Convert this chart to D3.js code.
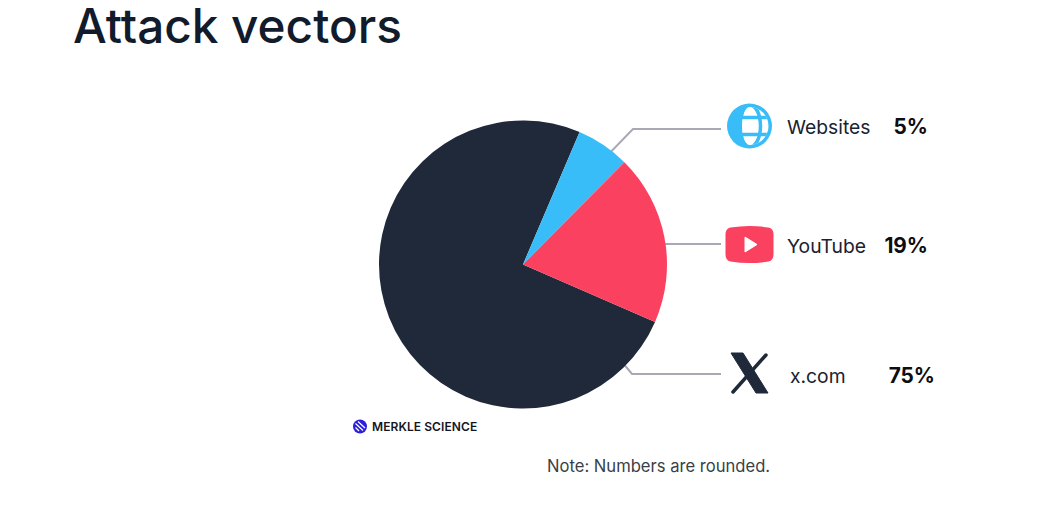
<!DOCTYPE html>
<html>
<head>
<meta charset="utf-8">
<script src="https://cdn.jsdelivr.net/npm/d3@7"></script>
<style>
  html, body { margin: 0; padding: 0; background: #fff; overflow: hidden; }
  text { font-family: Inter, "Noto Sans", sans-serif; }
</style>
</head>
<body>
<svg id="chart" width="1052" height="516"></svg>
<script>
const W = 1052;
const H = 516;

const categories = ["x.com", "Websites", "YouTube"];
const sliceValues = [74.9, 6, 19.1];
const labelValues = ["75%", "5%", "19%"];
const colors = ["#1f2939", "#38bdf8", "#fb4160"];

const svg = d3.select("#chart");

const cx = 523;
const cy = 264.5;
const radius = 144;
const start = (113.5 * Math.PI) / 180;

const pie = d3.pie().sort(null).startAngle(start).endAngle(start + 2 * Math.PI);
const arc = d3.arc().innerRadius(0).outerRadius(radius);
const line = d3.line();

// title
svg.append("text")
  .attr("x", 73)
  .attr("y", 43)
  .attr("font-size", 47.7)
  .attr("font-weight", 500)
  .attr("fill", "#111b2b")
  .text("Attack vectors");

// leader lines go first, the pie sits on top of their ends
const leaders = [
  [[600, 163], [633, 129], [721, 129]],
  [[650, 244], [721, 244]],
  [[612, 350], [632, 374], [721, 374]],
];
svg.append("g")
  .selectAll("path")
  .data(leaders)
  .join("path")
  .attr("d", (d) => line(d))
  .attr("fill", "none")
  .attr("stroke", "#a9a9b6")
  .attr("stroke-width", 2);

svg.append("g")
  .attr("transform", `translate(${cx},${cy})`)
  .selectAll("path")
  .data(pie(sliceValues))
  .join("path")
  .attr("d", arc)
  .attr("fill", (d, i) => colors[i]);

// labels
const nameX = [790, 787, 787];
const valueX = [935, 928, 928];
const baseY = [382.5, 134, 253];
const labels = svg.append("g");
labels.selectAll("text.name")
  .data(categories)
  .join("text")
  .attr("class", "name")
  .attr("x", (d, i) => nameX[i])
  .attr("y", (d, i) => baseY[i])
  .attr("font-size", 19.3)
  .attr("fill", "#1a2230")
  .text((d) => d);
labels.selectAll("text.value")
  .data(labelValues)
  .join("text")
  .attr("class", "value")
  .attr("x", (d, i) => valueX[i])
  .attr("y", (d, i) => baseY[i])
  .attr("text-anchor", "end")
  .attr("font-size", 20.8)
  .attr("font-weight", 700)
  .attr("fill", "#0d0d12")
  .text((d) => d);

// globe icon
const globe = svg.append("g").attr("transform", "translate(749.5,126)");
svg.append("clipPath").attr("id", "globe-clip")
  .append("circle").attr("cx", 0).attr("cy", 0).attr("r", 19);
globe.append("circle").attr("r", 22.5).attr("fill", colors[1]);
const cells = globe.append("g").attr("clip-path", "url(#globe-clip)");
cells.append("ellipse").attr("cx", 0.5).attr("rx", 8).attr("ry", 20).attr("fill", "#fff");
cells.append("rect").attr("x", 0).attr("y", -20).attr("width", 20).attr("height", 40).attr("fill", "#fff");
cells.append("rect").attr("x", -7).attr("y", -7).attr("width", 8).attr("height", 14).attr("fill", "#fff");
cells.append("ellipse").attr("cx", 0.5).attr("rx", 10.5).attr("ry", 21)
  .attr("fill", "none").attr("stroke", colors[1]).attr("stroke-width", 3.5);
cells.selectAll("line")
  .data([-8.5, 8.5])
  .join("line")
  .attr("x1", -22).attr("x2", 22)
  .attr("y1", (d) => d).attr("y2", (d) => d)
  .attr("stroke", colors[1]).attr("stroke-width", 3.5);

// youtube icon
const yt = svg.append("g").attr("transform", "translate(749.5,244.5)");
yt.append("path")
  .attr("d", "M-19,-17 Q0,-20 19,-17 Q24,-16 24,-10 L24,10 Q24,16 19,17 Q0,20 -19,17 Q-24,16 -24,10 L-24,-10 Q-24,-16 -19,-17 Z")
  .attr("fill", colors[2]);
yt.append("path")
  .attr("d", "M-4.5,-7.5 L7.5,0 L-4.5,7.5 Z")
  .attr("fill", "#fff")
  .attr("stroke", "#fff")
  .attr("stroke-width", 1)
  .attr("stroke-linejoin", "round");

// x icon
const xIcon = svg.append("g");
xIcon.append("path")
  .attr("d", "M731,353 L743,353 L768,393 L756,393 Z")
  .attr("fill", colors[0])
  .attr("stroke", colors[0])
  .attr("stroke-width", 1)
  .attr("stroke-linejoin", "round");
xIcon.append("path")
  .attr("d", line([[766, 355], [733, 392]]))
  .attr("stroke", colors[0])
  .attr("stroke-width", 3.5)
  .attr("stroke-linecap", "round");

// logo
const logo = svg.append("g").attr("transform", "translate(360,426.5)");
logo.append("circle").attr("r", 7).attr("fill", "#2b1fdc");
logo.append("path")
  .attr("d", "M-4.5,-3 L3,4 M-2,-5 L5,1.5 M-4.5,1 L-1,4.5")
  .attr("stroke", "#fff")
  .attr("stroke-width", 1.2)
  .attr("fill", "none");
svg.append("text")
  .attr("x", 372)
  .attr("y", 431)
  .attr("font-size", 12)
  .attr("font-weight", 600)
  .attr("letter-spacing", 0.08)
  .attr("fill", "#15151f")
  .text("MERKLE SCIENCE");

// footnote
svg.append("text")
  .attr("x", 547)
  .attr("y", 472)
  .attr("font-size", 16.6)
  .attr("fill", "#3a3f47")
  .text("Note: Numbers are rounded.");
</script>
</body>
</html>
